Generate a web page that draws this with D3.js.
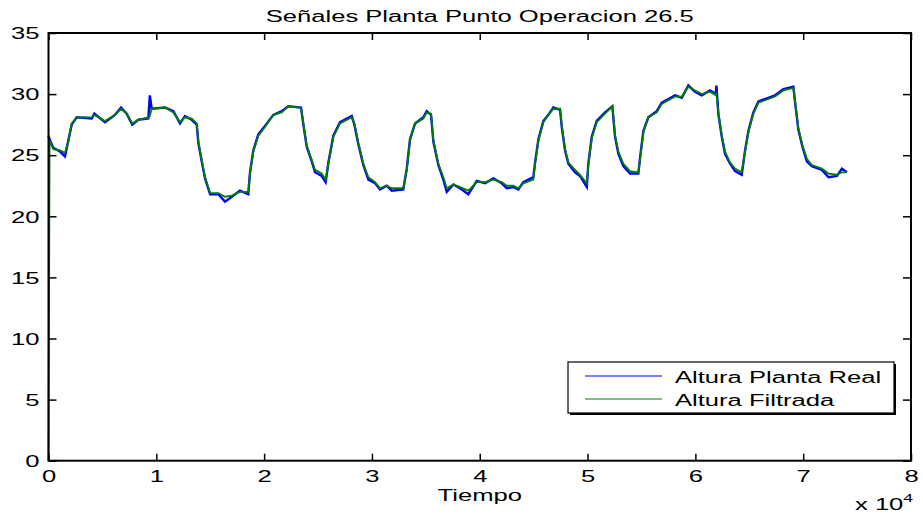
<!DOCTYPE html>
<html>
<head>
<meta charset="utf-8">
<script src="https://cdn.jsdelivr.net/npm/d3@7"></script>
<style>
  html, body { margin: 0; padding: 0; background: #fff; }
  svg { display: block; }
  text { font-family: "Liberation Sans", Arial, sans-serif; fill: #000; }
</style>
</head>
<body>
<svg id="chart" width="923" height="518"></svg>
<script>
const titleText = "Señales Planta Punto Operacion 26.5";
const xLabelText = "Tiempo";
const seriesNames = ["Altura Planta Real", "Altura Filtrada"];
const seriesColors = ["#0000ff", "#007f00"];
const xTicks = [0, 10000, 20000, 30000, 40000, 50000, 60000, 70000, 80000];
const yTicks = [0, 5, 10, 15, 20, 25, 30, 35];

const time = [0,100,445,1070,1530,1840,2150,2620,4010,4250,
5240,6170,6730,7250,7770,8330,9260,9400,9570,10810,
11580,12200,12660,13280,13750,13900,14210,14520,14990,15750,
16370,17000,17760,18530,18690,19000,19460,20080,20850,21630,
22240,23420,23640,23950,24420,24720,25340,25710,25960,26420,
27040,28130,28370,28740,29200,29670,30290,30750,31370,31840,
32910,33230,33530,34000,34770,35080,35480,35700,36160,36620,
36940,37550,38170,38940,39720,40490,41260,42040,42500,43120,
43580,44040,44970,45130,45440,45900,46360,46830,47450,47610,
47910,48220,48840,49300,49930,50070,50390,50850,51620,52300,
52550,52860,53320,53940,54710,54870,55180,55640,56420,56880,
57500,58120,58740,59350,59970,60590,61360,61890,61950,62130,
62450,62750,63220,63680,64300,64610,64920,65380,65850,66770,
67390,68160,69090,69250,69550,69930,70340,70800,71730,72350,
73130,73590,74050];

const alturaReal = [26.6,26.3,25.6,25.3,24.9,26.2,27.5,28.1,28.0,28.4,
27.7,28.3,28.9,28.4,27.5,27.9,28.0,29.9,28.8,28.9,
28.6,27.6,28.2,27.9,27.5,26.0,24.5,23.1,21.8,21.8,
21.2,21.6,22.1,21.8,23.6,25.4,26.7,27.4,28.3,28.6,
29.0,28.9,27.5,25.7,24.5,23.6,23.3,22.8,24.4,26.6,
27.7,28.2,27.5,25.9,24.2,23.0,22.7,22.2,22.5,22.1,
22.2,23.9,26.3,27.6,28.1,28.6,28.3,26.1,24.2,23.0,
22.0,22.6,22.3,21.8,22.9,22.7,23.1,22.7,22.3,22.4,
22.2,22.8,23.2,24.4,26.3,27.8,28.3,28.9,28.7,27.3,
25.4,24.3,23.6,23.3,22.4,24.3,26.5,27.8,28.5,29.0,
26.5,25.1,24.1,23.5,23.5,24.8,27.0,28.1,28.6,29.3,
29.6,29.9,29.7,30.7,30.2,29.9,30.3,30.0,30.7,28.4,
26.5,25.1,24.3,23.7,23.4,25.4,27.0,28.5,29.4,29.7,
29.9,30.4,30.6,29.3,27.1,25.7,24.5,24.1,23.8,23.2,
23.3,23.9,23.6];

const alturaFiltrada = [0,26.2,25.5,25.4,25.2,26.1,27.6,28.1,28.1,28.3,
27.8,28.3,28.8,28.4,27.6,27.9,28.1,28.2,28.8,28.9,
28.5,27.7,28.1,28.0,27.6,26.1,24.6,23.2,21.9,21.9,
21.6,21.7,22.0,22.0,23.5,25.3,26.6,27.3,28.3,28.5,
29.0,28.9,27.6,25.8,24.6,23.8,23.5,23.0,24.3,26.5,
27.6,28.1,27.6,26.0,24.3,23.2,22.8,22.3,22.5,22.3,
22.3,23.8,26.2,27.6,28.0,28.5,28.4,26.2,24.3,23.2,
22.3,22.6,22.4,22.1,22.8,22.8,23.0,22.8,22.5,22.5,
22.3,22.7,23.0,24.3,26.2,27.7,28.3,28.8,28.8,27.4,
25.5,24.4,23.8,23.4,22.7,24.2,26.4,27.7,28.4,29.0,
26.6,25.3,24.3,23.7,23.6,24.7,26.9,28.1,28.5,29.2,
29.5,29.8,29.8,30.6,30.3,30.0,30.2,29.9,30.0,28.5,
26.6,25.3,24.4,23.9,23.6,25.3,26.9,28.4,29.3,29.6,
29.8,30.3,30.5,29.4,27.2,25.8,24.7,24.2,23.9,23.5,
23.4,23.6,23.6];

const L = 48.5, R = 911, T = 33, B = 460.7;
const FS = 16, SX = 1.6;

const svg = d3.select("#chart");
const x = d3.scaleLinear().domain([0, 80000]).range([L, R]);
const y = d3.scaleLinear().domain([0, 35]).range([B, T]);

const realData = time.map((t, i) => [t, alturaReal[i]]);
const filtData = time.map((t, i) => [t, alturaFiltrada[i]]);
const line = d3.line().x(d => x(d[0])).y(d => y(d[1]));

const plot = svg.append("g");
plot.append("path")
  .datum(realData)
  .attr("fill", "none")
  .attr("stroke", seriesColors[0])
  .attr("stroke-width", 2.4)
  .attr("stroke-linejoin", "miter")
  .attr("d", line);
plot.append("path")
  .datum(filtData)
  .attr("fill", "none")
  .attr("stroke", seriesColors[1])
  .attr("stroke-width", 1.8)
  .attr("d", line);

function styleAxis(g) {
  g.select(".domain").remove();
  g.selectAll(".tick line").attr("stroke", "#000").attr("stroke-width", 1.5);
  g.selectAll(".tick text").attr("font-size", FS).attr("fill", "#000")
    .attr("font-family", '"Liberation Sans", Arial, sans-serif');
}

const gx = svg.append("g").attr("transform", `translate(0,${B})`)
  .call(d3.axisBottom(x).tickValues(xTicks).tickSizeInner(-7).tickSizeOuter(0)
    .tickPadding(10).tickFormat(d => d / 10000));
styleAxis(gx);
gx.selectAll(".tick text").attr("transform", `scale(${SX},1)`);

const gxt = svg.append("g").attr("transform", `translate(0,${T})`)
  .call(d3.axisTop(x).tickValues(xTicks).tickSizeInner(-7).tickSizeOuter(0).tickFormat(""));
styleAxis(gxt);

const gy = svg.append("g").attr("transform", `translate(${L},0)`)
  .call(d3.axisLeft(y).tickValues(yTicks).tickSizeInner(-8).tickSizeOuter(0)
    .tickPadding(5.6));
styleAxis(gy);
gy.selectAll(".tick text").attr("transform", `scale(${SX},1)`).attr("dy", "0.36em");

const gyr = svg.append("g").attr("transform", `translate(${R},0)`)
  .call(d3.axisRight(y).tickValues(yTicks).tickSizeInner(-8).tickSizeOuter(0).tickFormat(""));
styleAxis(gyr);

svg.append("rect")
  .attr("x", L).attr("y", T).attr("width", R - L).attr("height", B - T)
  .attr("fill", "none").attr("stroke", "#000").attr("stroke-width", 2);

svg.append("text")
  .attr("transform", `translate(${(L + R) / 2},22) scale(${SX},1)`)
  .attr("text-anchor", "middle").attr("font-size", FS)
  .text(titleText);

svg.append("text")
  .attr("transform", `translate(${(L + R) / 2},501) scale(${SX},1)`)
  .attr("text-anchor", "middle").attr("font-size", FS)
  .text(xLabelText);

const ex = svg.append("text")
  .attr("transform", `translate(855,510) scale(${SX},1)`)
  .attr("font-size", FS);
ex.append("tspan").text("x 10");
ex.append("tspan").attr("font-size", 11).attr("dy", -8).text("4");

const lg = svg.append("g");
const lx = 568, ly = 362, lw = 326, lh = 51;
lg.append("rect").attr("x", lx + 2).attr("y", ly + 2).attr("width", lw).attr("height", lh)
  .attr("fill", "#000");
lg.append("rect").attr("x", lx).attr("y", ly).attr("width", lw).attr("height", lh)
  .attr("fill", "#fff").attr("stroke", "#000").attr("stroke-width", 1.2);
const rowsY = [376, 399];
seriesNames.forEach((name, i) => {
  lg.append("line").attr("x1", 585).attr("x2", 662)
    .attr("y1", rowsY[i]).attr("y2", rowsY[i])
    .attr("stroke", seriesColors[i]).attr("stroke-width", 1.2);
  lg.append("text")
    .attr("transform", `translate(675,${rowsY[i] + 7}) scale(${SX},1)`)
    .attr("font-size", FS)
    .text(name);
});
</script>
</body>
</html>
